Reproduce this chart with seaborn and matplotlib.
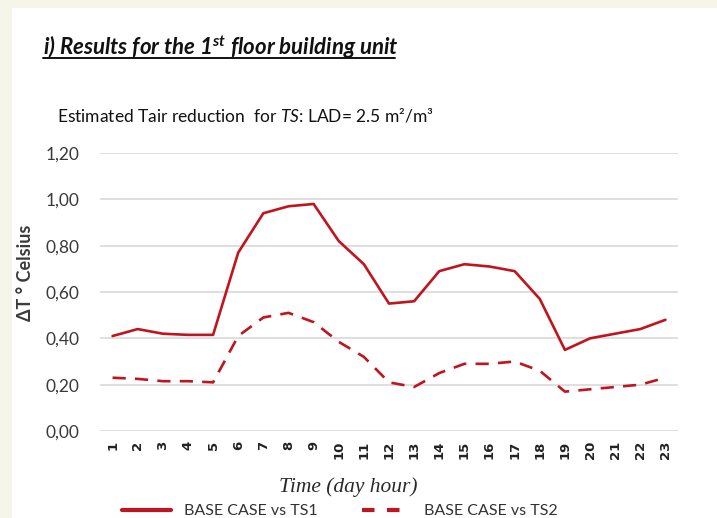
import numpy as np
import pandas as pd
import matplotlib
matplotlib.use("Agg")
import matplotlib.pyplot as plt
import matplotlib.patches as mpatches
import seaborn as sns

# Data
hours = list(range(1, 24))
ts1 = [0.41, 0.44, 0.42, 0.415, 0.415, 0.77, 0.94, 0.97, 0.98, 0.82, 0.72, 0.55,
       0.56, 0.69, 0.72, 0.71, 0.69, 0.57, 0.35, 0.40, 0.42, 0.44, 0.48]
ts2 = [0.23, 0.225, 0.215, 0.215, 0.21, 0.41, 0.49, 0.51, 0.47, 0.385, 0.32, 0.21,
       0.19, 0.25, 0.29, 0.29, 0.30, 0.26, 0.17, 0.18, 0.19, 0.20, 0.23]
series_names = ["BASE CASE vs TS1", "BASE CASE vs TS2"]
y_ticks = [0.0, 0.2, 0.4, 0.6, 0.8, 1.0, 1.2]

df = pd.DataFrame({
    "hour": hours * 2,
    "dT": ts1 + ts2,
    "case": [series_names[0]] * len(hours) + [series_names[1]] * len(hours),
})

sns.set_theme(style="white")
plt.rcParams["font.family"] = ["Lato", "DejaVu Sans"]
plt.rcParams["mathtext.fontset"] = "custom"
plt.rcParams["mathtext.rm"] = "Lato"
plt.rcParams["mathtext.it"] = "Lato:italic"
plt.rcParams["mathtext.bf"] = "Lato:bold:italic"

red = "#C0141E"
fig = plt.figure(figsize=(7.17, 5.18), dpi=100, facecolor="#F6F5EA")
bg = mpatches.Rectangle((12 / 717, 0), 1, 1 - 8 / 518, transform=fig.transFigure,
                        facecolor="white", edgecolor="none", zorder=-5)
fig.patches.append(bg)
ax = fig.add_axes([100 / 717, 1 - 431 / 518, 578 / 717, (431 - 153) / 518])
ax.set_facecolor("none")
ax.set_zorder(2)

sns.lineplot(data=df, x="hour", y="dT", hue="case", style="case",
             palette=[red, red], dashes={series_names[0]: "", series_names[1]: (5, 3.5)},
             linewidth=1.9, ax=ax, legend=False)

ax.set_xlim(0.5, 23.5)
ax.set_ylim(0, 1.2)
ax.set_yticks(y_ticks)
ax.set_yticklabels([f"{v:.2f}".replace(".", ",") for v in y_ticks], fontsize=12.5,
                   color="#3A3A3A")
ax.set_xticks(hours)
ax.set_xticklabels([str(h) for h in hours], rotation=90, fontsize=9.5, fontweight="bold",
                   color="#222222", family=["DejaVu Sans"])
ax.yaxis.grid(True, color="#D9D9D9", linewidth=1.2)
ax.tick_params(axis="y", length=0, pad=15)
ax.tick_params(axis="x", length=0, pad=7)
for s in ax.spines.values():
    s.set_visible(False)

ax.set_xlabel("Time (day hour)", fontsize=15.5, fontstyle="italic",
              family=["Liberation Serif"], color="#2A2A2A")
ax.xaxis.set_label_coords(0.429, -0.165)
ax.set_ylabel("ΔT ° Celsius", fontsize=13, fontweight="bold", color="#3A3A3A")
ax.yaxis.set_label_coords(-0.115, 0.568)

fig.text(43 / 717, 1 - 47 / 518, r"i) Results for the 1$\mathbf{^{st}}$ floor building unit",
         fontsize=16, fontweight="bold", fontstyle="italic", color="#111111", va="center")
fig.add_artist(plt.Line2D([43 / 717, 395 / 717], [1 - 58 / 518, 1 - 58 / 518],
                          transform=fig.transFigure, color="#111111", linewidth=1.4))
fig.text(57 / 717, 1 - 115 / 518, "Estimated Tair reduction  for $\\it{TS}$: LAD= 2.5 m²/m³",
         fontsize=12.5, color="#111111", va="center")

handles = [plt.Line2D([], [], color=red, linewidth=3),
           plt.Line2D([], [], color=red, linewidth=3, dashes=(3, 3))]
fig.legend(handles, series_names, loc="center", bbox_to_anchor=(0.474, 1 - 511 / 518),
           ncol=2, frameon=False, fontsize=11.5, handlelength=3.1, columnspacing=2.8,
           labelcolor="#333333")

fig.savefig("out.png", dpi=100, facecolor=fig.get_facecolor())
